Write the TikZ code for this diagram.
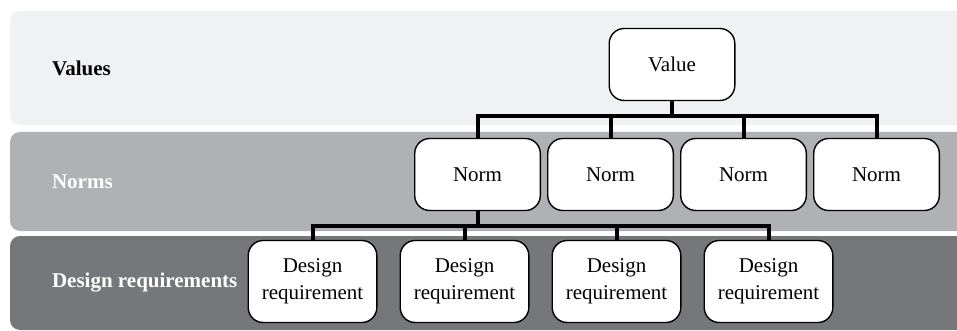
\documentclass[tikz,border=0pt]{standalone}
\usepackage{fontspec}
\setmainfont{Liberation Serif}
\usetikzlibrary{positioning}
\definecolor{bandvalue}{RGB}{240,241,243}
\definecolor{bandnorm}{RGB}{176,177,181}
\definecolor{banddesign}{RGB}{118,119,123}

\begin{document}
\begin{tikzpicture}[
  x=0.5pt, y=-0.5pt,
  font=\fontsize{10.5}{13.5}\selectfont,
  box/.style={draw, rounded corners=7.5pt, fill=white, align=center, line width=0.7pt, inner sep=2pt},
  normbox/.style={box, minimum width=62.8pt, minimum height=36pt},
  reqbox/.style={box, minimum width=64.3pt, minimum height=41pt},
  band/.style={rounded corners=5pt},
  layer/.style={anchor=west, font=\fontsize{10.5}{12}\selectfont\bfseries},
  conn/.style={line width=2pt}
]

\useasboundingbox (0,0) rectangle (957,331);
\clip (0,0) rectangle (957,331);

% layers
\fill[band, bandvalue] (10,11) rectangle (975,125);
\fill[band, bandnorm] (10,132) rectangle (975,231);
\fill[band, banddesign] (10,236) rectangle (975,330);

\node[layer] (lv) at (45,68) {Values};
\node[layer, text=white] (ln) at (45,182) {Norms};
\node[layer, text=white] (ld) at (45,283) {Design requirements};

% tree
\node[normbox] (val) at (672,64.5) {Value};

\node[normbox] (n1) at (477.5,174.5) {Norm};
\node[normbox, right=3pt of n1] (n2) {Norm};
\node[normbox, right=3pt of n2] (n3) {Norm};
\node[normbox, right=3pt of n3] (n4) {Norm};

\node[reqbox] (d1) at (312.5,281.5) {Design\\requirement};
\node[reqbox, right=11pt of d1] (d2) {Design\\requirement};
\node[reqbox, right=11pt of d2] (d3) {Design\\requirement};
\node[reqbox, right=11pt of d3] (d4) {Design\\requirement};

\draw[conn] (val.south) -- ++(0,15) -| (n1.north);
\draw[conn] (val.south) -- ++(0,15) -| (n2.north);
\draw[conn] (val.south) -- ++(0,15) -| (n3.north);
\draw[conn] (val.south) -- ++(0,15) -| (n4.north);

\draw[conn] (n1.south) -- ++(0,15) -| (d1.north);
\draw[conn] (n1.south) -- ++(0,15) -| (d2.north);
\draw[conn] (n1.south) -- ++(0,15) -| (d3.north);
\draw[conn] (n1.south) -- ++(0,15) -| (d4.north);

\end{tikzpicture}
\end{document}
